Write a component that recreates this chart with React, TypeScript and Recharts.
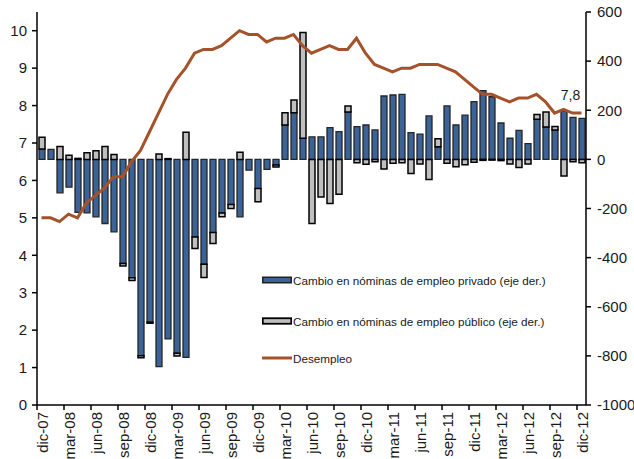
import React from "react";
import { Bar, ComposedChart, Legend, Line, LabelList, XAxis, YAxis } from "recharts";

const MONTHS = [
  "dic-07",
  "ene-08", "feb-08", "mar-08", "abr-08", "may-08", "jun-08", "jul-08", "ago-08", "sep-08", "oct-08", "nov-08", "dic-08",
  "ene-09", "feb-09", "mar-09", "abr-09", "may-09", "jun-09", "jul-09", "ago-09", "sep-09", "oct-09", "nov-09", "dic-09",
  "ene-10", "feb-10", "mar-10", "abr-10", "may-10", "jun-10", "jul-10", "ago-10", "sep-10", "oct-10", "nov-10", "dic-10",
  "ene-11", "feb-11", "mar-11", "abr-11", "may-11", "jun-11", "jul-11", "ago-11", "sep-11", "oct-11", "nov-11", "dic-11",
  "ene-12", "feb-12", "mar-12", "abr-12", "may-12", "jun-12", "jul-12", "ago-12", "sep-12", "oct-12", "nov-12", "dic-12",
];

// cambio mensual en nóminas, miles (eje der.)
const PRIVATE = [
  42,
  41, -136, -113, -216, -218, -234, -261, -295, -424, -482, -799, -663,
  -844, -731, -789, -806, -316, -427, -298, -218, -184, -234, -44, -119,
  -41, -23, 140, 190, 86, 92, 92, 129, 113, 193, 133, 140,
  120, 258, 262, 265, 109, 103, 177, 51, 218, 140, 180, 235,
  280, 255, 148, 86, 118, 64, 163, 132, 120, 198, 171, 167,
];

const PUBLIC = [
  48,
  0, 52, 17, 4, 27, 35, 52, 20, -10, -11, -9, -4,
  22, 3, -12, 110, -47, -54, -45, -16, -16, 29, 0, -54,
  0, -8, 50, 52, 431, -261, -153, -180, -142, 24, -14, -20,
  -10, -39, -16, -14, -57, -19, -82, 33, -16, -30, -22, -12,
  -4, -3, -5, -19, -33, -19, 20, 61, 14, -68, -10, -14,
];

// tasa de desempleo, % (eje izq.)
const UNEMPLOYMENT = [
  5.0,
  5.0, 4.9, 5.1, 5.0, 5.4, 5.6, 5.8, 6.1, 6.1, 6.5, 6.8, 7.3,
  7.8, 8.3, 8.7, 9.0, 9.4, 9.5, 9.5, 9.6, 9.8, 10.0, 9.9, 9.9,
  9.7, 9.8, 9.8, 9.9, 9.6, 9.4, 9.5, 9.6, 9.5, 9.5, 9.8, 9.4,
  9.1, 9.0, 8.9, 9.0, 9.0, 9.1, 9.1, 9.1, 9.0, 8.9, 8.7, 8.5,
  8.3, 8.3, 8.2, 8.1, 8.2, 8.2, 8.3, 8.1, 7.8, 7.9, 7.8, 7.8,
];

const LEFT_TICKS = [0, 1, 2, 3, 4, 5, 6, 7, 8, 9, 10];
const RIGHT_TICKS = [-1000, -800, -600, -400, -200, 0, 200, 400, 600];

const BLUE = "#3b6397";
const GRAY = "#bfbfbf";
const BROWN = "#a5522a";
const FONT = "'Liberation Sans', Arial, sans-serif";

const data = MONTHS.map((m, i) => ({
  month: m,
  privado: PRIVATE[i],
  publico: PUBLIC[i],
  desempleo: UNEMPLOYMENT[i],
}));

const MonthTick = (props: any) => {
  const { x, y, payload } = props;
  const tx = x + 1;
  return (
    <g>
      <line x1={x - 4.5} y1={y - 7} x2={x - 4.5} y2={y - 2} stroke="#000" strokeWidth={1.5} />
      <text
        x={tx}
        y={y}
        dy="0.36em"
        transform={`rotate(-90, ${tx}, ${y})`}
        textAnchor="end"
        fontSize={15}
        fontFamily={FONT}
        fill="#1a1a1a"
      >
        {payload.value}
      </text>
    </g>
  );
};

const LastLabel = (props: any) => {
  const { x, y, index, value } = props;
  if (index !== UNEMPLOYMENT.length - 1) return null;
  return (
    <text x={x - 11} y={y - 13} textAnchor="middle" fontSize={14} fontFamily={FONT} fill="#1a1a1a">
      {String(value.toFixed(1)).replace(".", ",")}
    </text>
  );
};

const renderLegend = () => {
  const row = { display: "flex", alignItems: "center", height: 16, whiteSpace: "nowrap" as const };
  const text = { fontSize: 11.7, fontFamily: FONT, color: "#1a1a1a", marginLeft: 1 };
  return (
    <div>
      <div style={row}>
        <svg width={30} height={8}>
          <rect x={0.75} y={1.25} width={28.5} height={5.5} fill={BLUE} stroke="#222" strokeWidth={1.5} />
        </svg>
        <span style={text}>Cambio en nóminas de empleo privado (eje der.)</span>
      </div>
      <div style={{ ...row, marginTop: 25 }}>
        <svg width={30} height={8}>
          <rect x={0.75} y={1.25} width={28.5} height={5.5} fill={GRAY} stroke="#000" strokeWidth={1.8} />
        </svg>
        <span style={text}>Cambio en nóminas de empleo público (eje der.)</span>
      </div>
      <div style={{ ...row, marginTop: 21 }}>
        <svg width={30} height={8}>
          <line x1={0} y1={4} x2={30} y2={4} stroke={BROWN} strokeWidth={3} />
        </svg>
        <span style={text}>Desempleo</span>
      </div>
    </div>
  );
};

export default function App() {
  const tickStyle = { fontSize: 15, fontFamily: FONT, fill: "#1a1a1a" };
  return (
    <div style={{ position: "absolute", left: 0, top: 0, width: 634, height: 459, background: "#fff" }}>
      <ComposedChart
        width={634}
        height={459}
        data={data}
        stackOffset="sign"
        margin={{ top: 12, right: 0, bottom: 0, left: 0 }}
      >
        <XAxis
          dataKey="month"
          height={54}
          interval={2}
          tickSize={5}
          tickMargin={2}
          tickLine={false}
          tick={<MonthTick />}
          axisLine={{ stroke: "#000", strokeWidth: 1.5 }}
        />
        <YAxis
          yAxisId="left"
          orientation="left"
          width={37}
          domain={[0, 10.5]}
          ticks={LEFT_TICKS}
          interval={0}
          tickSize={5}
          tickMargin={5}
          tick={tickStyle}
          tickLine={{ stroke: "#000", strokeWidth: 1.5 }}
          axisLine={{ stroke: "#000", strokeWidth: 1.5 }}
        />
        <YAxis
          yAxisId="right"
          orientation="right"
          width={48}
          domain={[-1000, 600]}
          ticks={RIGHT_TICKS}
          interval={0}
          tickSize={5}
          tickMargin={6}
          tick={tickStyle}
          tickLine={{ stroke: "#000", strokeWidth: 1.5 }}
          axisLine={{ stroke: "#000", strokeWidth: 1.5 }}
          allowDataOverflow
        />
        <Legend
          layout="vertical"
          align="center"
          verticalAlign="middle"
          content={renderLegend}
          wrapperStyle={{ left: 262, top: 272, width: 320 }}
        />
        <Bar
          yAxisId="right"
          dataKey="privado"
          name="Cambio en nóminas de empleo privado (eje der.)"
          stackId="a"
          barSize={6}
          fill={BLUE}
          stroke="#262626"
          strokeWidth={1.3}
          isAnimationActive={false}
        />
        <Bar
          yAxisId="right"
          dataKey="publico"
          name="Cambio en nóminas de empleo público (eje der.)"
          stackId="a"
          barSize={6}
          fill={GRAY}
          stroke="#000"
          strokeWidth={1.5}
          isAnimationActive={false}
        />
        <Line
          yAxisId="left"
          dataKey="desempleo"
          name="Desempleo"
          type="linear"
          stroke={BROWN}
          strokeWidth={3}
          dot={false}
          isAnimationActive={false}
        >
          <LabelList dataKey="desempleo" content={<LastLabel />} />
        </Line>
      </ComposedChart>
    </div>
  );
}
